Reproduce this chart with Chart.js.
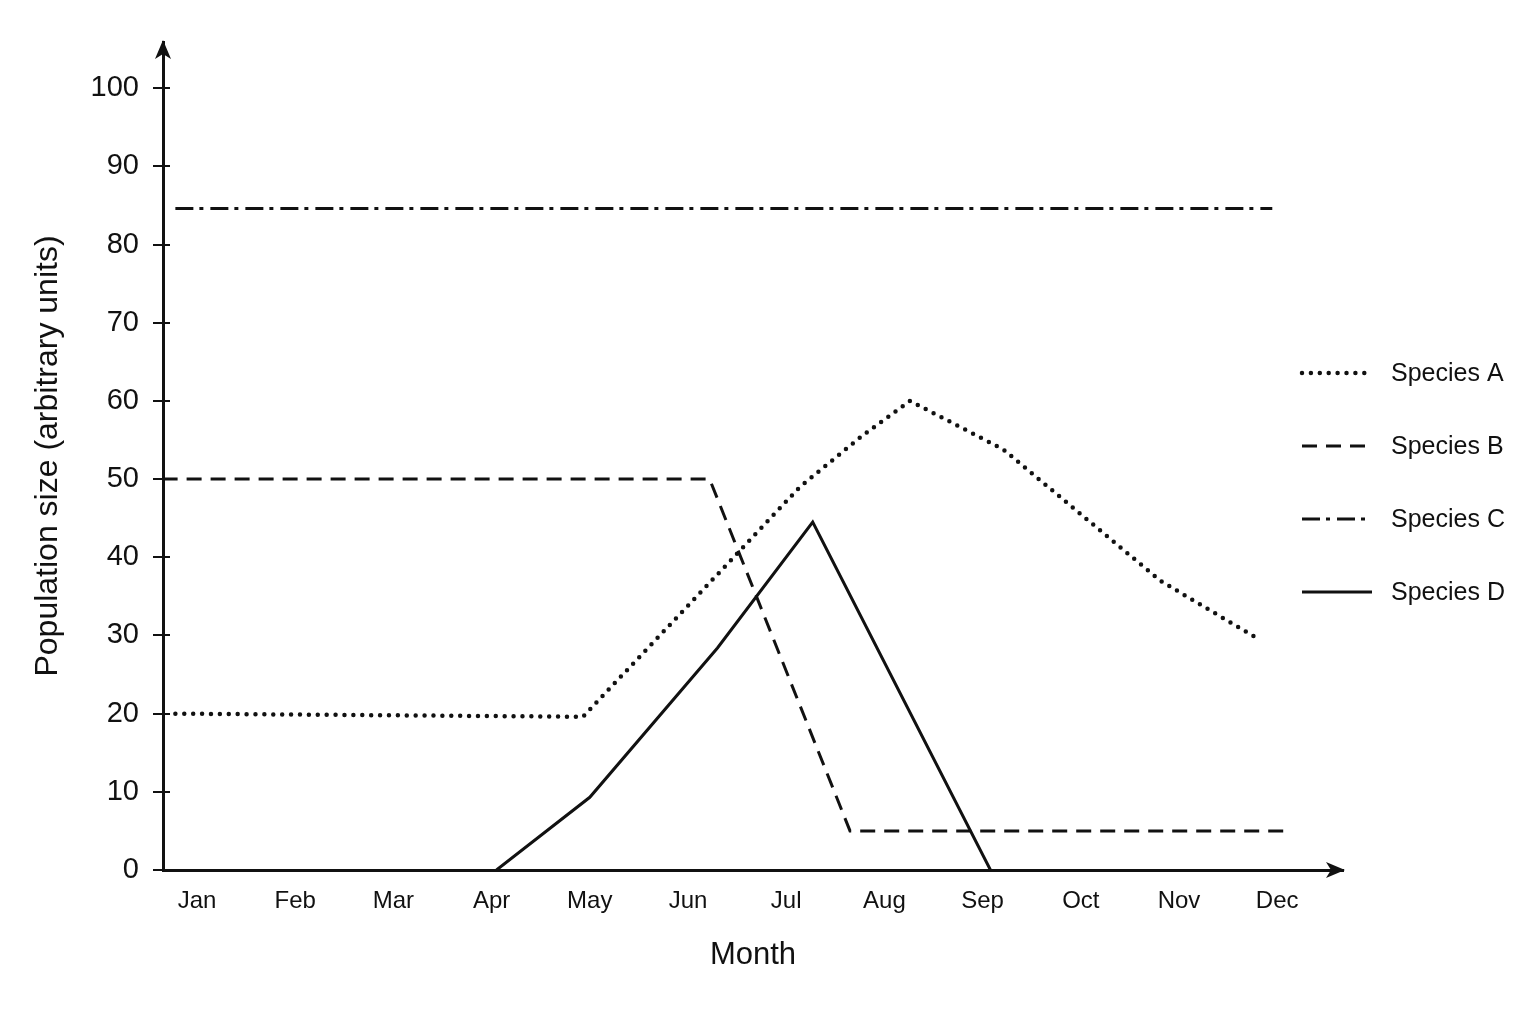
<!DOCTYPE html>
<html>
<head>
<meta charset="utf-8">
<script src="https://cdn.jsdelivr.net/npm/chart.js@4"></script>
<style>
  html, body { margin: 0; padding: 0; background: #fff; }
  canvas { display: block; }
</style>
</head>
<body>
<canvas id="chart" width="1536" height="1024"></canvas>
<script>
// month names used as x tick labels (index 0 = Jan)
const months = ["Jan", "Feb", "Mar", "Apr", "May", "Jun", "Jul", "Aug", "Sep", "Oct", "Nov", "Dec"];
const yTicks = [0, 10, 20, 30, 40, 50, 60, 70, 80, 90, 100];

// x positions are in months (0 = Jan)
const speciesAX = [-0.22, 3.93, 5.09, 6.14, 6.78, 7.26, 8.21, 9.81, 10.8];
const speciesAY = [20, 19.6, 35, 49, 55.6, 60, 53.8, 37, 29.6];

const speciesBX = [-0.35, 5.22, 6.65, 11.13];
const speciesBY = [50, 50, 5, 5];

const speciesCX = [-0.22, 10.95];
const speciesCY = [84.6, 84.6];

const speciesDX = [3.05, 4.0, 5.3, 6.27, 8.08];
const speciesDY = [0, 9.3, 28.4, 44.5, 0];

const ink = "#111";
const fontFamily = "'Liberation Sans', Arial, sans-serif";

function pts(xs, ys) {
  return xs.map((x, i) => ({ x: x, y: ys[i] }));
}

// legend at the right, samples drawn with each dataset's own dash
const sideLegend = {
  id: "sideLegend",
  afterDraw(chart) {
    const ctx = chart.ctx;
    ctx.save();
    chart.data.datasets.forEach((ds, i) => {
      const y = 373 + i * 73;
      ctx.beginPath();
      ctx.setLineDash(ds.borderDash || []);
      ctx.lineCap = ds.borderCapStyle || "butt";
      ctx.lineWidth = ds.borderWidth;
      ctx.strokeStyle = ds.borderColor;
      ctx.moveTo(1302, y);
      ctx.lineTo(1372, y);
      ctx.stroke();
      ctx.setLineDash([]);
      ctx.fillStyle = ink;
      ctx.font = "25px " + fontFamily;
      ctx.textBaseline = "middle";
      ctx.textAlign = "left";
      ctx.fillText(ds.label, 1391, y + 1);
    });
    ctx.restore();
  }
};

// arrow heads on both axes + the inner half of the y tick marks
const axisArrows = {
  id: "axisArrows",
  afterDraw(chart) {
    const ctx = chart.ctx;
    const a = chart.chartArea;
    const yScale = chart.scales.y;
    ctx.save();
    ctx.strokeStyle = ink;
    ctx.lineWidth = 2;
    yScale.ticks.forEach(t => {
      const py = Math.round(yScale.getPixelForValue(t.value));
      ctx.beginPath();
      ctx.moveTo(a.left, py);
      ctx.lineTo(a.left + 7, py);
      ctx.stroke();
    });
    ctx.fillStyle = ink;
    // up arrow
    ctx.beginPath();
    ctx.moveTo(a.left, a.top - 2);
    ctx.lineTo(a.left - 8, a.top + 17);
    ctx.lineTo(a.left, a.top + 12);
    ctx.lineTo(a.left + 8, a.top + 17);
    ctx.closePath();
    ctx.fill();
    // right arrow
    ctx.beginPath();
    ctx.moveTo(a.right + 2, a.bottom);
    ctx.lineTo(a.right - 17, a.bottom - 8);
    ctx.lineTo(a.right - 12, a.bottom);
    ctx.lineTo(a.right - 17, a.bottom + 8);
    ctx.closePath();
    ctx.fill();
    ctx.restore();
  }
};

const ctx = document.getElementById("chart").getContext("2d");
const chart = new Chart(ctx, {
  type: "line",
  data: {
    datasets: [
      {
        label: "Species A",
        data: pts(speciesAX, speciesAY),
        borderColor: ink,
        borderWidth: 4.5,
        borderDash: [0, 8.9],
        borderCapStyle: "round",
      },
      {
        label: "Species B",
        data: pts(speciesBX, speciesBY),
        borderColor: ink,
        borderWidth: 3,
        borderDash: [15, 9],
      },
      {
        label: "Species C",
        data: pts(speciesCX, speciesCY),
        borderColor: ink,
        borderWidth: 3,
        borderDash: [18, 6, 4, 7],
      },
      {
        label: "Species D",
        data: pts(speciesDX, speciesDY),
        borderColor: ink,
        borderWidth: 3,
      },
    ],
  },
  options: {
    responsive: false,
    animation: false,
    layout: {
      padding: { left: 0, right: 193, top: 42, bottom: 0 },
    },
    elements: {
      point: { radius: 0 },
      line: { tension: 0, fill: false },
    },
    plugins: {
      legend: { display: false },
      tooltip: { enabled: false },
    },
    scales: {
      x: {
        type: "linear",
        min: -0.346,
        max: 11.67,
        afterFit: (s) => { s.height = 154; },
        afterBuildTicks: (axis) => {
          axis.ticks = months.map((m, i) => ({ value: i }));
        },
        grid: { display: false, drawTicks: false },
        border: { display: true, color: ink, width: 3 },
        ticks: {
          color: ink,
          padding: 17,
          autoSkip: false,
          maxRotation: 0,
          font: { size: 24, family: fontFamily },
          callback: function (value) {
            return months[value];
          },
        },
        title: {
          display: true,
          text: "Month",
          color: ink,
          padding: { top: 0, bottom: 50 },
          font: { size: 31, family: fontFamily },
        },
      },
      y: {
        min: 0,
        max: 105.9,
        afterFit: (s) => { s.width = 163; },
        afterBuildTicks: (axis) => {
          axis.ticks = yTicks.map(v => ({ value: v }));
        },
        grid: {
          drawOnChartArea: false,
          drawTicks: true,
          tickLength: 10,
          color: ink,
          lineWidth: 2,
        },
        border: { display: true, color: ink, width: 3 },
        ticks: {
          color: ink,
          padding: 14,
          font: { size: 29, family: fontFamily },
        },
        title: {
          display: true,
          text: "Population size (arbitrary units)",
          color: ink,
          padding: { top: 29, bottom: 0 },
          font: { size: 32, family: fontFamily },
        },
      },
    },
  },
  plugins: [sideLegend, axisArrows],
});
</script>
</body>
</html>
